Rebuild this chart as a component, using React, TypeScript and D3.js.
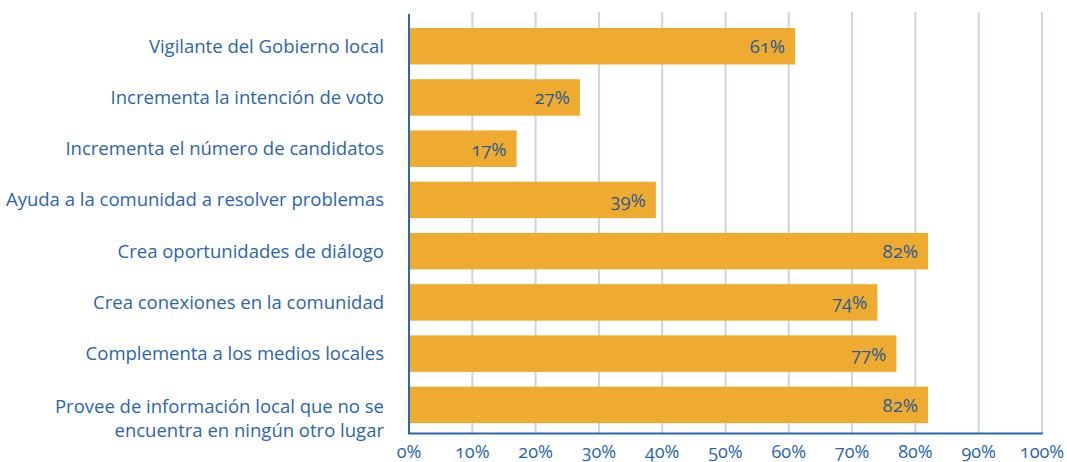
import React from "react";
import * as d3 from "d3";

const categories: string[][] = [
  ["Vigilante del Gobierno local"],
  ["Incrementa la intención de voto"],
  ["Incrementa el número de candidatos"],
  ["Ayuda a la comunidad a resolver problemas"],
  ["Crea oportunidades de diálogo"],
  ["Crea conexiones en la comunidad"],
  ["Complementa a los medios locales"],
  ["Provee de información local que no se", "encuentra en ningún otro lugar"],
];
const values: number[] = [61, 27, 17, 39, 82, 74, 77, 82];
const ticks: number[] = [0, 10, 20, 30, 40, 50, 60, 70, 80, 90, 100];

const W = 1067;
const H = 462;
const FONT = "'Open Sans', 'Noto Sans', sans-serif";
const BLUE = "#2a66ad";
const BAR = "#efab2f";
const GRID = "#ccd3e8";

export default function App() {
  const x = d3.scaleLinear().domain([0, 100]).range([409, 1042]);
  const y = d3
    .scaleBand<number>()
    .domain(values.map((_, i) => i))
    .range([20.6, 430.5])
    .paddingInner(0.288)
    .paddingOuter(0.144);
  const axisTop = 14;
  const axisBottom = 433.5;

  return (
    <svg
      width={W}
      height={H}
      style={{ position: "absolute", left: 0, top: 0, fontFamily: FONT }}
    >
      {ticks.slice(1).map((t) => (
        <line
          key={"g" + t}
          x1={x(t)}
          x2={x(t)}
          y1={12}
          y2={axisBottom}
          stroke={GRID}
          strokeWidth={2}
        />
      ))}
      {values.map((v, i) => (
        <rect
          key={"b" + i}
          x={x(0)}
          y={y(i)}
          width={x(v) - x(0)}
          height={y.bandwidth()}
          fill={BAR}
        />
      ))}
      <line x1={x(0)} x2={x(0)} y1={axisTop} y2={axisBottom} stroke={BLUE} strokeWidth={2} />
      <line x1={x(0) - 1} x2={x(100) + 1} y1={axisBottom} y2={axisBottom} stroke={BLUE} strokeWidth={2} />
      {values.map((v, i) => (
        <text
          key={"v" + i}
          x={x(v) - 10}
          y={(y(i) as number) + y.bandwidth() / 2}
          dy="0.38em"
          textAnchor="end"
          fontSize={18.5}
          fill="#2b5c99"
          style={{ fontVariantNumeric: "oldstyle-nums" }}
        >
          {v}%
        </text>
      ))}
      {categories.map((lines, i) => (
        <text
          key={"c" + i}
          x={384}
          y={(y(i) as number) + y.bandwidth() / 2 + (lines.length > 1 ? 2 : 0)}
          textAnchor="end"
          fontSize={18.5}
          fill={BLUE}
        >
          {lines.map((l, j) => (
            <tspan key={j} x={384} dy={j === 0 ? "0.35em" : 24}>
              {l}
            </tspan>
          ))}
        </text>
      ))}
      {ticks.map((t) => (
        <text
          key={"t" + t}
          x={x(t)}
          y={458}
          textAnchor="middle"
          fontSize={18}
          fill={BLUE}
          style={{ fontVariantNumeric: "oldstyle-nums" }}
        >
          {t}%
        </text>
      ))}
    </svg>
  );
}
